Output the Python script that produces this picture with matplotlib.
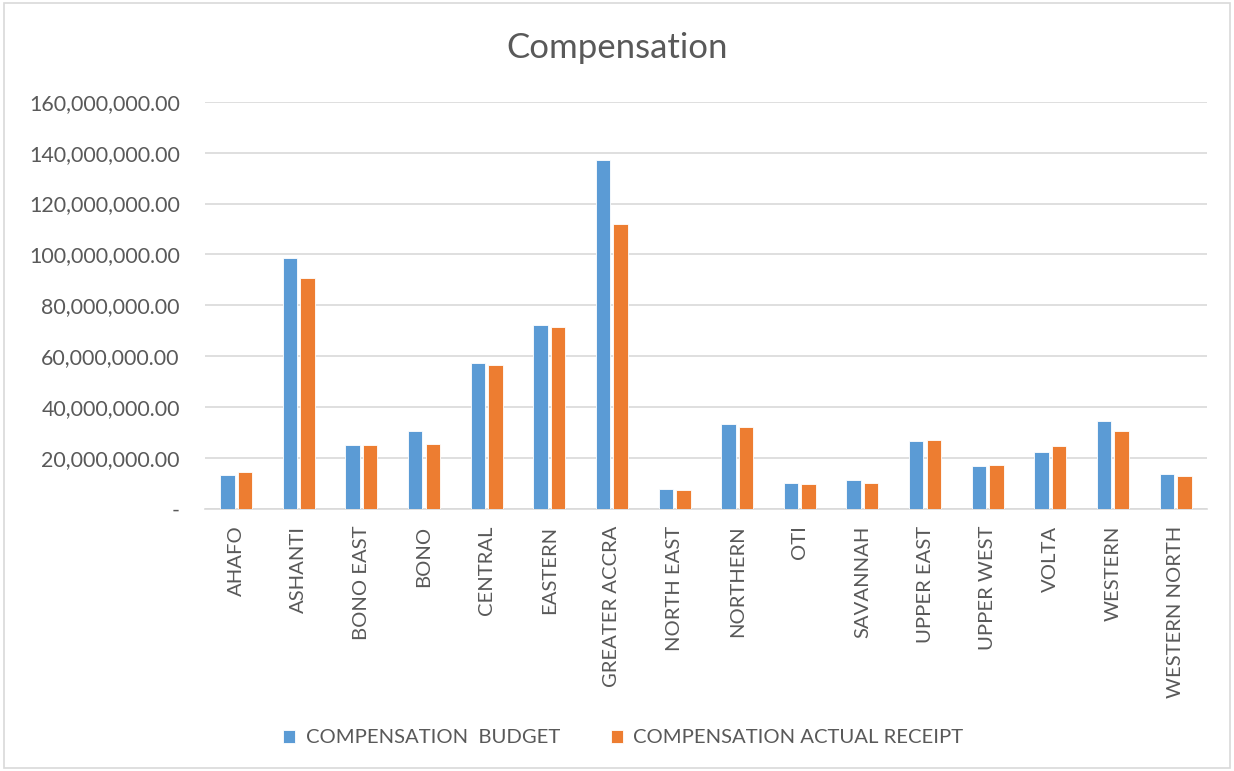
import matplotlib.pyplot as plt
import numpy as np
from matplotlib.patches import Rectangle
from matplotlib.ticker import FuncFormatter

plt.rcParams['font.family'] = ['Lato', 'DejaVu Sans']

regions = ['AHAFO', 'ASHANTI', 'BONO EAST', 'BONO', 'CENTRAL', 'EASTERN',
           'GREATER ACCRA', 'NORTH EAST', 'NORTHERN', 'OTI', 'SAVANNAH',
           'UPPER EAST', 'UPPER WEST', 'VOLTA', 'WESTERN', 'WESTERN NORTH']
budget = [13.2e6, 98.6e6, 25.0e6, 30.5e6, 57.3e6, 72.2e6, 137.1e6, 7.8e6,
          33.5e6, 10.0e6, 11.4e6, 26.7e6, 16.9e6, 22.3e6, 34.6e6, 13.7e6]
actual = [14.4e6, 90.7e6, 25.0e6, 25.4e6, 56.6e6, 71.5e6, 111.9e6, 7.4e6,
          32.2e6, 9.6e6, 10.0e6, 27.1e6, 17.2e6, 24.7e6, 30.5e6, 12.8e6]

blue = '#5B9BD5'
orange = '#ED7D31'
grey = '#595959'

fig = plt.figure(figsize=(12.34, 7.71), dpi=100)
ax = fig.add_axes([0.166, 0.340, 0.812, 0.528])

x = np.arange(len(regions))
w = 0.23
ax.bar(x - 0.14, budget, w, color=blue, edgecolor='white', linewidth=0.6,
       label='COMPENSATION  BUDGET', zorder=3)
ax.bar(x + 0.14, actual, w, color=orange, edgecolor='white', linewidth=0.6,
       label='COMPENSATION ACTUAL RECEIPT', zorder=3)

ax.set_xlim(-0.5, len(regions) - 0.5)
ax.set_ylim(0, 160e6)
ax.set_yticks(np.arange(0, 160e6 + 1, 20e6))
ax.yaxis.set_major_formatter(FuncFormatter(lambda v, p: '-' if v == 0 else f'{v:,.2f}'))
ax.set_xticks(x)
ax.set_xticklabels(regions, rotation=90)
ax.tick_params(axis='both', length=0, colors=grey)
ax.tick_params(axis='y', pad=18, labelsize=15.4)
ax.tick_params(axis='x', pad=12, labelsize=14.6)
ax.grid(axis='y', color='#D9D9D9', linewidth=1.2, zorder=0)
for s in ['top', 'right', 'left']:
    ax.spines[s].set_visible(False)
ax.spines['bottom'].set_color('#D9D9D9')
ax.spines['bottom'].set_linewidth(1.2)

fig.text(0.5, 0.938, 'Compensation', ha='center', va='center', fontsize=25, color=grey)

leg = fig.legend(loc='center', bbox_to_anchor=(0.505, 0.043), ncol=2, frameon=False,
                 fontsize=14.6, handlelength=0.6, handleheight=0.6, columnspacing=2.5,
                 handletextpad=0.5)
for t in leg.get_texts():
    t.set_color(grey)

fig.patches.append(Rectangle((0.003, 0.004), 0.994, 0.992, transform=fig.transFigure,
                             fill=False, edgecolor='#D9D9D9', linewidth=1.2))

fig.savefig('out.png', dpi=100)
